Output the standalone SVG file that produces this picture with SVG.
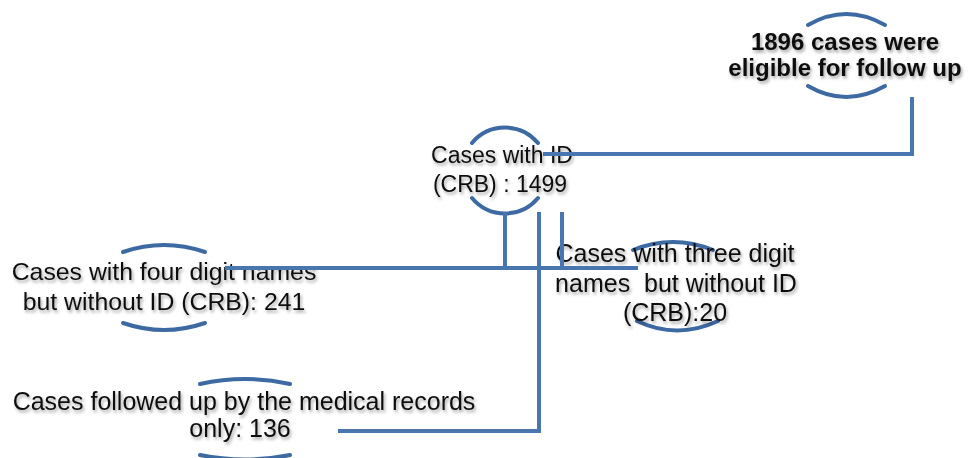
<svg xmlns="http://www.w3.org/2000/svg" width="968" height="458" viewBox="0 0 968 458">
<style>
  .t { font-family: "Liberation Sans", Arial, sans-serif; fill: #111; text-anchor: middle; filter: url(#sh); }
  .b { font-weight: bold; }
  .arc { fill: none; stroke: #3e6aa3; stroke-width: 4; stroke-linecap: round; }
  .ln { fill: none; stroke: #4a76b0; stroke-width: 4; }
</style>
<defs>
  <filter id="sh" x="-10%" y="-30%" width="120%" height="160%">
    <feDropShadow dx="1.5" dy="2.5" stdDeviation="1.8" flood-color="#000" flood-opacity="0.35"/>
  </filter>
</defs>
<rect width="968" height="458" fill="#fff"/>

<g id="node-eligible">
  <path class="arc" d="M 808 25 Q 846 3 885 25"/>
  <path class="arc" d="M 808 86 Q 846 108 885 86"/>
  <text class="t b" font-size="24" x="845" y="50">1896 cases were</text>
  <text class="t b" font-size="24" x="845" y="76">eligible for follow up</text>
</g>

<g id="node-with-id">
  <path class="arc" d="M 472 143 A 43 43 0 0 1 538 143"/>
  <path class="arc" d="M 472 198 A 43 43 0 0 0 538 198"/>
  <text class="t" font-size="23" x="502" y="163">Cases with ID</text>
  <text class="t" font-size="23" x="500" y="192">(CRB) : 1499</text>
</g>

<g id="node-four-digit">
  <path class="arc" d="M 123 252 Q 164 238 205 252"/>
  <path class="arc" d="M 123 323 Q 164 337 205 323"/>
  <text class="t" font-size="24.8" x="164" y="280">Cases with four digit names</text>
  <text class="t" font-size="24.8" x="164" y="310">but without ID (CRB): 241</text>
</g>

<g id="node-three-digit">
  <path class="arc" d="M 633 250 Q 673 234 713 250"/>
  <path class="arc" d="M 637 321 Q 677 340 718 321"/>
  <text class="t" font-size="25" x="675" y="262">Cases with three digit</text>
  <text class="t" font-size="25" x="676" y="292" style="white-space:pre">names  but without ID</text>
  <text class="t" font-size="25" x="675" y="321">(CRB):20</text>
</g>

<g id="node-medical">
  <path class="arc" d="M 200 384 Q 245 374 290 384"/>
  <path class="arc" d="M 200 455 Q 245 464 290 455"/>
  <text class="t" font-size="25" x="244" y="410">Cases followed up by the medical records</text>
  <text class="t" font-size="25" x="240" y="437">only: 136</text>
</g>

<g id="connectors">
  <polyline class="ln" points="912,97 912,154 543,154"/>
  <line class="ln" x1="505" y1="212" x2="505" y2="268"/>
  <line class="ln" x1="562" y1="212" x2="562" y2="268"/>
  <line class="ln" x1="225" y1="268" x2="638" y2="268"/>
  <polyline class="ln" points="539,212 539,431 338,431"/>
</g>
</svg>
